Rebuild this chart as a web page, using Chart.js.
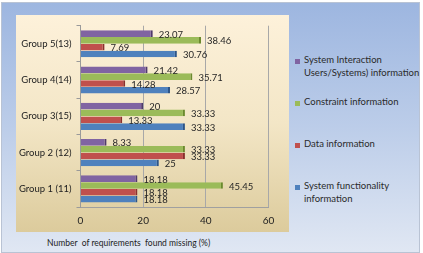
<!DOCTYPE html>
<html lang="en">
<head>
<meta charset="UTF-8">
<script src="https://cdn.jsdelivr.net/npm/chart.js"></script>
<title>Missing requirements</title>
<style>
    body { margin: 0; background: #ffffff; font-family: Lato, "Open Sans", sans-serif; }
    .quadro {
        position: absolute; left: 1px; top: 2px; width: 417px; height: 249px;
        border: 1px solid #b9c3d4;
        background: linear-gradient(180deg, #9db6e0 0%, #bccde9 50%, #e0e7f3 100%);
    }
    .painel {
        position: absolute; left: 16px; top: 15px; width: 273px; height: 217px;
        background: linear-gradient(180deg, #fdf1da 0%, #f3e6c6 50%, #dccb9c 100%);
    }
    .legenda { position: absolute; left: 0; top: 0; font-size: 9.5px; color: #2a2a2a; }
    .item { position: absolute; left: 304px; line-height: 12.5px; white-space: nowrap; }
    .marca { position: absolute; width: 5px; height: 5px; left: 295px; }
    .tituloX {
        position: absolute; left: 47px; top: 238px; font-size: 8.5px; color: #222;
        white-space: pre;
    }
</style>
</head>
<body>
<div class="quadro"></div>
<div class="painel">
    <canvas id="grafico" width="273" height="217"></canvas>
</div>

<div class="legenda">
    <div class="marca" style="top:59px;background:#8064a2"></div>
    <div class="item" style="top:54px">System Interaction<br>Users/Systems) information</div>
    <div class="marca" style="top:101px;background:#9bbb59"></div>
    <div class="item" style="top:96px">Constraint information</div>
    <div class="marca" style="top:143px;background:#c0504d"></div>
    <div class="item" style="top:138px">Data information</div>
    <div class="marca" style="top:185px;background:#4f81bd"></div>
    <div class="item" style="top:180px">System functionality<br>information</div>
</div>

<div class="tituloX">Number  of requirements  found missing (%)</div>

<script>
    const grupos = ['Group 5(13)', 'Group 4(14)', 'Group 3(15)', 'Group 2 (12)', 'Group 1 (11)'];
    const interacao = [23.07, 21.42, 20, 8.33, 18.18];
    const restricao = [38.46, 35.71, 33.33, 33.33, 45.45];
    const dados = [7.69, 14.28, 13.33, 33.33, 18.18];
    const funcionalidade = [30.76, 28.57, 33.33, 25, 18.18];
    const ticksX = [0, 20, 40, 60];

    const fonte = 'Lato, "Open Sans", sans-serif';

    // rotulos de valor no fim de cada barra
    const rotulos = {
        id: 'rotulos',
        afterDatasetsDraw(chart) {
            const c = chart.ctx;
            c.save();
            c.font = '9.5px ' + fonte;
            c.fillStyle = '#262626';
            c.textBaseline = 'middle';
            c.textAlign = 'left';
            chart.data.datasets.forEach((ds, i) => {
                chart.getDatasetMeta(i).data.forEach((el, j) => {
                    c.fillText(String(ds.data[j]), el.x + 6, el.y + 1);
                });
            });
            c.restore();
        }
    };

    function serie(label, data, cor, borda) {
        return {
            label: label,
            data: data,
            backgroundColor: cor,
            borderColor: borda,
            borderWidth: { top: 0, bottom: 0, left: 0, right: 2 },
            borderSkipped: 'start',
            categoryPercentage: 0.75,
            barPercentage: 0.98
        };
    }

    new Chart(document.getElementById('grafico'), {
        type: 'bar',
        data: {
            labels: grupos,
            datasets: [
                serie('System Interaction Users/Systems) information', interacao, '#8064a2', '#4f3a6b'),
                serie('Constraint information', restricao, '#9bbb59', '#6b8a2e'),
                serie('Data information', dados, '#c0504d', '#8a2f2c'),
                serie('System functionality information', funcionalidade, '#4f81bd', '#2d5588')
            ]
        },
        options: {
            indexAxis: 'y',
            responsive: false,
            animation: false,
            layout: { padding: { top: 7, right: 20.5, bottom: 0, left: 0 } },
            plugins: {
                legend: { display: false },
                tooltip: { enabled: false }
            },
            scales: {
                x: {
                    min: 0,
                    max: 60,
                    afterBuildTicks(s) { s.ticks = ticksX.map(v => ({ value: v })); },
                    afterFit(s) { s.height = 25; },
                    grid: { color: '#a8a8a8', drawTicks: false },
                    border: { display: true, color: '#a0a0a0' },
                    ticks: { padding: 8, color: '#222', font: { family: fonte, size: 10 } }
                },
                y: {
                    afterFit(s) { s.width = 64.5; },
                    grid: { display: true, drawOnChartArea: false, drawTicks: true, tickLength: 4, color: '#9a9a9a' },
                    border: { display: true, color: '#9a9a9a' },
                    ticks: { padding: 5, color: '#222', font: { family: fonte, size: 9.5 } }
                }
            }
        },
        plugins: [rotulos]
    });
</script>
</body>
</html>
